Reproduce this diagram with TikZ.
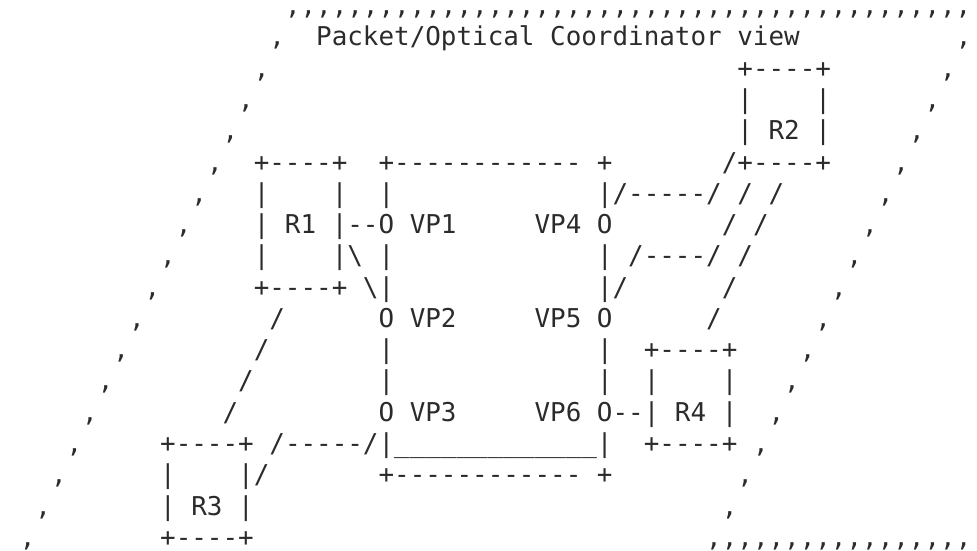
\documentclass[tikz,border=0pt]{standalone}
\usepackage{fontspec}
\newfontfamily\asciimono[Ligatures=TeXOff,WordSpace={1,0,0},PunctuationSpace=WordSpace]{DejaVu Sans Mono}
\definecolor{txtgray}{HTML}{2B2B2B}
\tikzset{asc/.style={anchor=base west, inner sep=0pt, outer sep=0pt,
  font=\asciimono\fontsize{25.91pt}{31pt}\selectfont, text=txtgray}}
\newcommand\seg[5][]{\node[asc,#1] (#2) at ({19.8+15.6*(#3)},{-(14.7+31.27*(#4))}) {#5};}
\begin{document}
\frenchspacing
\begin{tikzpicture}[x=1pt,y=1pt]
\useasboundingbox (0,0) rectangle (977,-550);
% row 0
\seg[text height=3pt]{r0a}{17}{0}{,,,,,,,,,,,,,,,,,,,,,,,,,,,,,,,,,,,,,,,,,,,,}
% row 1
\seg{r1a}{16}{1}{,}
\seg{title}{19}{1}{Packet/Optical~Coordinator~view}
\seg{r1b}{60}{1}{,}
% row 2
\seg{r2a}{15}{2}{,}
\seg{r2b}{46}{2}{+----+}
\seg{r2c}{59}{2}{,}
% row 3
\seg{r3a}{14}{3}{,}
\seg{r3b}{46}{3}{|~~~~|}
\seg{r3c}{58}{3}{,}
% row 4
\seg{r4a}{13}{4}{,}
\seg{R2}{46}{4}{|~R2~|}
\seg{r4c}{57}{4}{,}
% row 5
\seg{r5a}{12}{5}{,}
\seg{r5b}{15}{5}{+----+}
\seg{r5c}{23}{5}{+------------~+}
\seg{r5d}{45}{5}{/+----+}
\seg{r5e}{56}{5}{,}
% row 6
\seg{r6a}{11}{6}{,}
\seg{r6b}{15}{6}{|~~~~|}
\seg{r6c}{23}{6}{|}
\seg{r6d}{37}{6}{|/-----/~/~/}
\seg{r6e}{55}{6}{,}
% row 7
\seg{r7a}{10}{7}{,}
\seg{R1}{15}{7}{|~R1~|--O~VP1}
\seg{VP4}{33}{7}{VP4~O}
\seg{r7d}{45}{7}{/~/}
\seg{r7e}{54}{7}{,}
% row 8
\seg{r8a}{9}{8}{,}
\seg{r8b}{15}{8}{|~~~~|\textbackslash~|}
\seg{r8c}{37}{8}{|~/----/~/}
\seg{r8d}{53}{8}{,}
% row 9
\seg{r9a}{8}{9}{,}
\seg{r9b}{15}{9}{+----+~\textbackslash|}
\seg{r9c}{37}{9}{|/}
\seg{r9d}{45}{9}{/}
\seg{r9e}{52}{9}{,}
% row 10
\seg{r10a}{7}{10}{,}
\seg{r10b}{16}{10}{/}
\seg{VP2}{23}{10}{O~VP2}
\seg{VP5}{33}{10}{VP5~O}
\seg{r10c}{44}{10}{/}
\seg{r10d}{51}{10}{,}
% row 11
\seg{r11a}{6}{11}{,}
\seg{r11b}{15}{11}{/}
\seg{r11c}{23}{11}{|}
\seg{r11d}{37}{11}{|}
\seg{r11e}{40}{11}{+----+}
\seg{r11f}{50}{11}{,}
% row 12
\seg{r12a}{5}{12}{,}
\seg{r12b}{14}{12}{/}
\seg{r12c}{23}{12}{|}
\seg{r12d}{37}{12}{|}
\seg{r12e}{40}{12}{|~~~~|}
\seg{r12f}{49}{12}{,}
% row 13
\seg{r13a}{4}{13}{,}
\seg{r13b}{13}{13}{/}
\seg{VP3}{23}{13}{O~VP3}
\seg{VP6}{33}{13}{VP6~O--|~R4~|}
\seg{r13c}{48}{13}{,}
% row 14
\seg{r14a}{3}{14}{,}
\seg{r14b}{9}{14}{+----+}
\seg{r14c}{16}{14}{/-----/|\_\_\_\_\_\_\_\_\_\_\_\_\_|}
\seg{r14d}{40}{14}{+----+}
\seg{r14e}{47}{14}{,}
% row 15
\seg{r15a}{2}{15}{,}
\seg{r15b}{9}{15}{|~~~~|/}
\seg{r15c}{23}{15}{+------------~+}
\seg{r15d}{46}{15}{,}
% row 16
\seg{r16a}{1}{16}{,}
\seg{R3}{9}{16}{|~R3~|}
\seg{r16b}{45}{16}{,}
% row 17
\seg[text depth=0pt]{r17a}{0}{17}{,}
\seg[text depth=0pt]{r17b}{9}{17}{+----+}
\seg[text depth=0pt]{r17c}{44}{17}{,,,,,,,,,,,,,,,,,}
\end{tikzpicture}
\end{document}
